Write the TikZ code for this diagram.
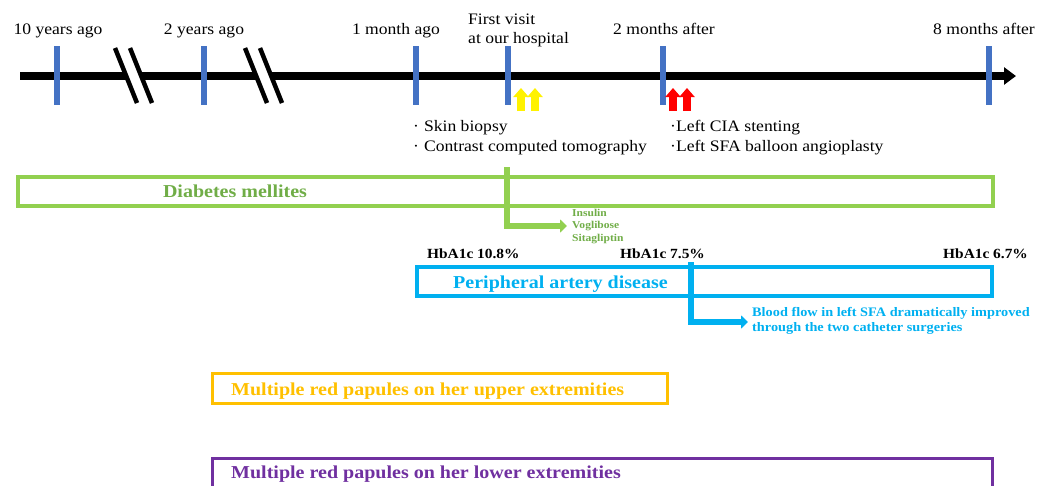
\documentclass[tikz,border=0pt]{standalone}
\usepackage{fontspec}
\setmainfont{Liberation Serif}[FakeStretch=1.1]
\usetikzlibrary{arrows.meta}
\definecolor{tickblue}{HTML}{4472C4}
\definecolor{dmgreen}{HTML}{92D050}
\definecolor{dmtext}{HTML}{70AD47}
\definecolor{padblue}{HTML}{00B0F0}
\definecolor{uporange}{HTML}{FFC000}
\definecolor{lowpurple}{HTML}{7030A0}
\begin{document}
\begin{tikzpicture}[x=1pt,y=-1pt,
  tickmark/.style={fill=tickblue,draw=none,minimum width=6pt,minimum height=59pt,inner sep=0pt},
  timelbl/.style={inner sep=0pt,font=\fontsize{16}{19}\selectfont},
  hba/.style={inner sep=0pt,anchor=base west,font=\fontsize{14}{16}\selectfont\bfseries},
  period/.style={draw,line width=3.3pt,inner sep=0pt,minimum height=29pt},
  periodlbl/.style={inner sep=0pt,font=\fontsize{18.2}{21}\selectfont\bfseries},
  conn/.style={line width=5.5pt,-{Triangle[length=7pt,width=13pt]}},
  uparrow/.style={line width=8pt,-{Triangle[length=9pt,width=15pt]}},
  brk/.style={line width=4.5pt,black}
]
\useasboundingbox (0,0) rectangle (1053,485);

% timeline
\coordinate (tlstart) at (20,76);
\coordinate (tlend) at (1016,76);
\draw[line width=8pt,-{Triangle[length=12pt,width=17pt]}] (tlstart) -- (tlend);

% break marks
\foreach \dx in {0,130}{
  \fill[white] (115+\dx,48) -- (130+\dx,48) -- (152+\dx,103) -- (137+\dx,103) -- cycle;
  \draw[brk] (115+\dx,48) -- (137+\dx,103);
  \draw[brk] (130+\dx,48) -- (152+\dx,103);
}

% ticks
\node[tickmark] (t1) at (57,75.5) {};
\node[tickmark] (t2) at (204,75.5) {};
\node[tickmark] (t3) at (416,75.5) {};
\node[tickmark] (t4) at (508,75.5) {};
\node[tickmark] (t5) at (663,75.5) {};
\node[tickmark] (t6) at (989,75.5) {};

% time labels
\node[timelbl,anchor=base] (l1) at (58,34) {10 years ago};
\node[timelbl,anchor=base] (l2) at (204,34) {2 years ago};
\node[timelbl,anchor=base] (l3) at (396,34) {1 month ago};
\node[timelbl,anchor=base west] (l4a) at (468,24) {First visit};
\node[timelbl,anchor=base west] (l4b) at (468,43) {at our hospital};
\node[timelbl,anchor=base] (l5) at (664,34) {2 months after};
\node[timelbl,anchor=base] (l6) at (984,34) {8 months after};

% up arrows
\coordinate (y1b) at (521,111); \coordinate (y1t) at (521,88);
\coordinate (y2b) at (535,111); \coordinate (y2t) at (535,88);
\coordinate (r1b) at (673,111); \coordinate (r1t) at (673,88);
\coordinate (r2b) at (687,111); \coordinate (r2t) at (687,88);
\draw[uparrow,yellow] (y1b) -- (y1t);
\draw[uparrow,yellow] (y2b) -- (y2t);
\draw[uparrow,red] (r1b) -- (r1t);
\draw[uparrow,red] (r2b) -- (r2t);

% procedures
\node[timelbl,anchor=base west] (p1) at (413,131) {·\hspace{5pt}Skin biopsy};
\node[timelbl,anchor=base west] (p2) at (413,151) {·\hspace{5pt}Contrast computed tomography};
\node[timelbl,anchor=base west] (p3) at (670,131) {·Left CIA stenting};
\node[timelbl,anchor=base west] (p4) at (670,151) {·Left SFA balloon angioplasty};

% diabetes
\node[period,draw=dmgreen,minimum width=975pt] (dm) at (505.5,191.5) {};
\node[periodlbl,text=dmtext,anchor=base] (dmlbl) at (235,197) {Diabetes mellites};
\coordinate (gtop) at (507,167);
\coordinate (garrow) at (567,226);
\draw[conn,dmgreen] (gtop) |- (garrow);
\node[inner sep=0pt,anchor=base west,text=dmtext,font=\fontsize{10.5}{12}\selectfont\bfseries] (ins) at (572,216) {Insulin};
\node[inner sep=0pt,anchor=base west,text=dmtext,font=\fontsize{10.5}{12}\selectfont\bfseries] (vog) at (572,228.5) {Voglibose};
\node[inner sep=0pt,anchor=base west,text=dmtext,font=\fontsize{10.5}{12}\selectfont\bfseries] (sit) at (572,241) {Sitagliptin};

% HbA1c
\node[hba] (h1) at (427,258) {HbA1c 10.8\%};
\node[hba] (h2) at (620,258) {HbA1c 7.5\%};
\node[hba] (h3) at (943,258) {HbA1c 6.7\%};

% PAD
\node[period,draw=padblue,minimum width=575pt] (pad) at (704.5,281.5) {};
\node[periodlbl,text=padblue,anchor=base west] (padlbl) at (453,288) {Peripheral artery disease};
\coordinate (btop) at (691,262);
\coordinate (barrow) at (748,322);
\draw[conn,padblue] (btop) |- (barrow);
\node[inner sep=0pt,anchor=base west,text=padblue,font=\fontsize{13}{15}\selectfont\bfseries] (bf1) at (752,316) {Blood flow in left SFA dramatically improved};
\node[inner sep=0pt,anchor=base west,text=padblue,font=\fontsize{13}{15}\selectfont\bfseries] (bf2) at (752,331) {through the two catheter surgeries};

% upper extremities
\node[period,draw=uporange,line width=3pt,minimum width=455pt,minimum height=30pt] (up) at (439.5,388) {};
\node[periodlbl,text=uporange,anchor=base west] (uplbl) at (231,395) {Multiple red papules on her upper extremities};

% lower extremities
\node[period,draw=lowpurple,line width=3pt,minimum width=780pt,minimum height=60pt] (low) at (602,488) {};
\node[periodlbl,text=lowpurple,anchor=base west] (lowlbl) at (231,478) {Multiple red papules on her lower extremities};
\end{tikzpicture}
\end{document}
